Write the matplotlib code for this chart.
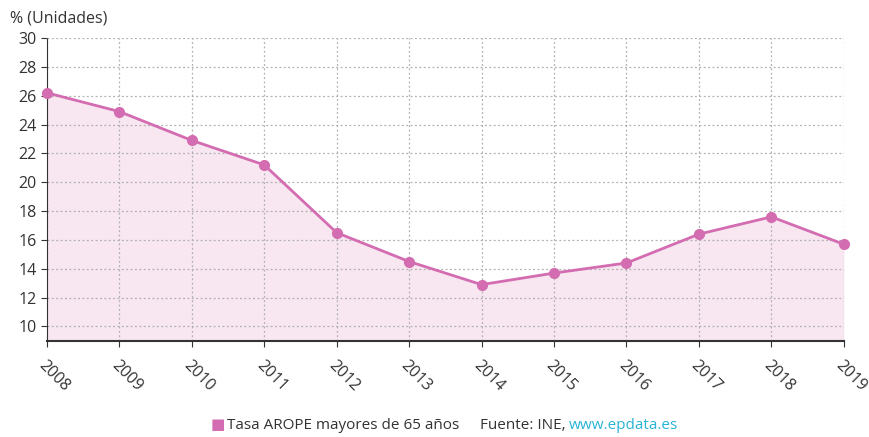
import matplotlib.pyplot as plt
import numpy as np

years = [2008, 2009, 2010, 2011, 2012, 2013, 2014, 2015, 2016, 2017, 2018, 2019]
tasa = [26.2, 24.9, 22.9, 21.2, 16.5, 14.5, 12.9, 13.7, 14.4, 16.4, 17.6, 15.7]
yticks = [10, 12, 14, 16, 18, 20, 22, 24, 26, 28, 30]

pink = '#d36cb0'
plt.rcParams['font.family'] = ['Open Sans', 'DejaVu Sans']

fig = plt.figure(figsize=(8.69, 4.37), dpi=100)
ax = fig.add_axes([0.054, 0.220, 0.917, 0.693])

x = np.arange(len(years))
ax.fill_between(x, tasa, 9, color='#f8e6f1', zorder=0.3, lw=0)
ax.plot(x, tasa, color=pink, lw=2, marker='o', ms=7, zorder=3, clip_on=False)

ax.set_xlim(0, len(years) - 1)
ax.set_ylim(9, 30)
ax.set_xticks(x)
ax.set_xticklabels(years, rotation=-45, ha='left', va='top', rotation_mode='anchor')
ax.set_yticks(yticks)
ax.tick_params(axis='both', labelsize=11.5, colors='#333333', length=4)
ax.tick_params(axis='x', pad=8)
ax.grid(True, color='#b0b0b0', linestyle=(0, (1.5, 2)), lw=0.9, zorder=0.5)
ax.set_axisbelow(True)

for s in ['top', 'right']:
    ax.spines[s].set_visible(False)
ax.spines['left'].set_linestyle((0, (2, 1)))
ax.spines['left'].set_color('#333333')
ax.spines['bottom'].set_color('#333333')
ax.spines['bottom'].set_linewidth(1.5)

fig.text(0.012, 0.958, '% (Unidades)', fontsize=11.5, color='#333333', va='center')

ly = 0.01
fig.text(0.242, ly, '\u25A0', fontsize=11, color=pink, va='bottom')
fig.text(0.261, ly, 'Tasa AROPE mayores de 65 años', fontsize=11, color='#333333', va='bottom')
fig.text(0.552, ly, 'Fuente: INE,', fontsize=11, color='#333333', va='bottom')
fig.text(0.654, ly, 'www.epdata.es', fontsize=11, color='#29b4d6', va='bottom')

fig.savefig('out.png', dpi=100)
